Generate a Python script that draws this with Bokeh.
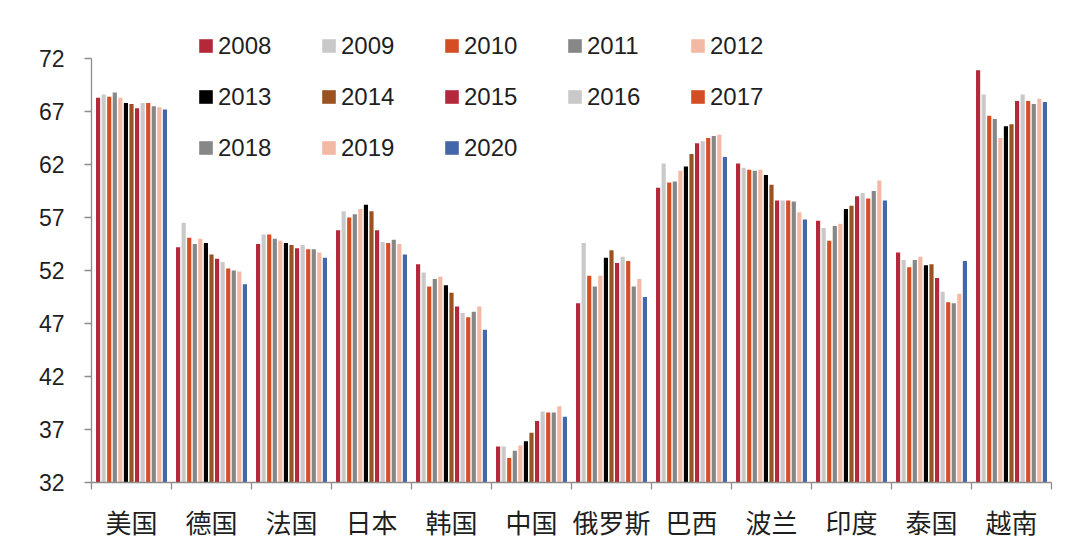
from bokeh.plotting import figure
from bokeh.models import ColumnDataSource, Range1d, FixedTicker, Legend, LegendItem
from bokeh.embed import file_html
from bokeh.resources import INLINE

countries = ["美国", "德国", "法国", "日本", "韩国", "中国", "俄罗斯", "巴西", "波兰", "印度", "泰国", "越南"]
years = [2008, 2009, 2010, 2011, 2012, 2013, 2014, 2015, 2016, 2017, 2018, 2019, 2020]

v2008 = [68.3, 54.2, 54.5, 55.8, 52.6, 35.4, 48.9, 59.8, 62.1, 56.7, 53.7, 70.9]
v2009 = [68.6, 56.5, 55.4, 57.6, 51.8, 35.4, 54.6, 62.1, 61.7, 56.0, 53.0, 68.6]
v2010 = [68.4, 55.1, 55.4, 57.0, 50.5, 34.3, 51.5, 60.3, 61.5, 54.8, 52.3, 66.6]
v2011 = [68.8, 54.5, 55.0, 57.3, 51.2, 35.0, 50.5, 60.4, 61.4, 56.2, 53.0, 66.3]
v2012 = [68.3, 55.0, 54.8, 57.8, 51.4, 35.5, 51.5, 61.4, 61.5, 56.4, 53.3, 64.5]
v2013 = [67.8, 54.6, 54.6, 58.2, 50.6, 35.9, 53.2, 61.8, 61.0, 57.8, 52.5, 65.6]
v2014 = [67.7, 53.5, 54.4, 57.6, 49.9, 36.7, 53.9, 63.0, 60.1, 58.1, 52.6, 65.8]
v2015 = [67.3, 53.1, 54.1, 55.8, 48.6, 37.8, 52.7, 64.0, 58.6, 59.0, 51.3, 68.0]
v2016 = [67.8, 52.8, 54.4, 54.7, 48.0, 38.7, 53.3, 64.2, 58.6, 59.3, 50.0, 68.6]
v2017 = [67.8, 52.2, 54.0, 54.6, 47.6, 38.6, 52.9, 64.5, 58.6, 58.8, 49.0, 68.0]
v2018 = [67.5, 52.0, 54.0, 54.9, 48.1, 38.6, 50.5, 64.7, 58.5, 59.5, 48.9, 67.7]
v2019 = [67.4, 51.9, 53.7, 54.5, 48.6, 39.2, 51.2, 64.8, 57.5, 60.5, 49.8, 68.2]
v2020 = [67.2, 50.7, 53.2, 53.5, 46.4, 38.2, 49.5, 62.7, 56.8, 58.6, 52.9, 67.9]

series = [v2008, v2009, v2010, v2011, v2012, v2013, v2014, v2015, v2016, v2017, v2018, v2019, v2020]
colors = ["#B3293B", "#C9C9C9", "#D44D25", "#878787", "#F4B9A5", "#000000", "#9A5220",
          "#B3293B", "#C9C9C9", "#D44D25", "#878787", "#F4B9A5", "#4466AA"]
y_ticks = [32, 37, 42, 47, 52, 57, 62, 67, 72]
y_base = 32

BL, BR, BT, BB = 91, 19, 28, 70
FW, FH = 960, 454
W, H = BL + FW + BR, BT + FH + BB
px_per_unit = 10.6
y_top = y_base + FH / px_per_unit

p = figure(width=W, height=H, output_backend="svg", toolbar_location=None,
           x_range=Range1d(0, len(countries)), y_range=Range1d(y_base, y_top))
p.min_border_left = BL
p.min_border_right = BR
p.min_border_top = BT
p.min_border_bottom = BB
p.xgrid.visible = False
p.ygrid.visible = False
p.outline_line_color = None
p.background_fill_color = "white"
p.border_fill_color = "white"

slot = 0.0696
bar_w = 0.052
n = len(years)
items = []
for j, (yr, vals, col) in enumerate(zip(years, series, colors)):
    xs = [i + 0.5 + (j - (n - 1) / 2) * slot for i in range(len(countries))]
    src = ColumnDataSource(dict(x=xs, top=vals))
    r = p.vbar(x="x", top="top", bottom=y_base, width=bar_w, source=src,
               fill_color=col, line_color=None)
    items.append(LegendItem(label=str(yr), renderers=[r]))

axis_col = "#8C8C8C"
text_col = "#1f1f1f"

ya = p.yaxis[0]
ya.ticker = FixedTicker(ticks=y_ticks)
ya.bounds = (y_ticks[0], y_ticks[-1])
ya.axis_line_color = axis_col
ya.axis_line_width = 1.3
ya.major_tick_line_color = axis_col
ya.major_tick_line_width = 1.3
ya.major_tick_in = 0
ya.major_tick_out = 7
ya.minor_tick_in = 0
ya.minor_tick_out = 0
ya.major_label_standoff = 20
ya.major_label_text_font = "Liberation Sans"
ya.major_label_text_font_size = "23px"
ya.major_label_text_color = text_col

centers = [i + 0.5 for i in range(len(countries))]
bounds = [float(i) for i in range(len(countries) + 1)]
xa = p.xaxis[0]
xa.ticker = FixedTicker(ticks=centers, minor_ticks=bounds)
xa.major_label_overrides = {c: name for c, name in zip(centers, countries)}
xa.axis_line_color = axis_col
xa.axis_line_width = 1.3
xa.major_tick_in = 0
xa.major_tick_out = 0
xa.minor_tick_in = 0
xa.minor_tick_out = 7
xa.minor_tick_line_color = axis_col
xa.minor_tick_line_width = 1.3
xa.major_label_standoff = 13
xa.major_label_text_font = "Noto Sans CJK SC"
xa.major_label_text_font_size = "26px"
xa.major_label_text_color = text_col

legend = Legend(items=items, location=(106, 320), orientation="horizontal", ncols=5,
                glyph_width=17, glyph_height=17, label_standoff=4,
                label_width=80, label_height=29, spacing=22, padding=0, margin=0,
                border_line_color=None, background_fill_alpha=0,
                label_text_font="Liberation Sans", label_text_font_size="24px",
                label_text_color=text_col)
p.add_layout(legend)

open("out.html", "w").write(file_html(p, INLINE))
